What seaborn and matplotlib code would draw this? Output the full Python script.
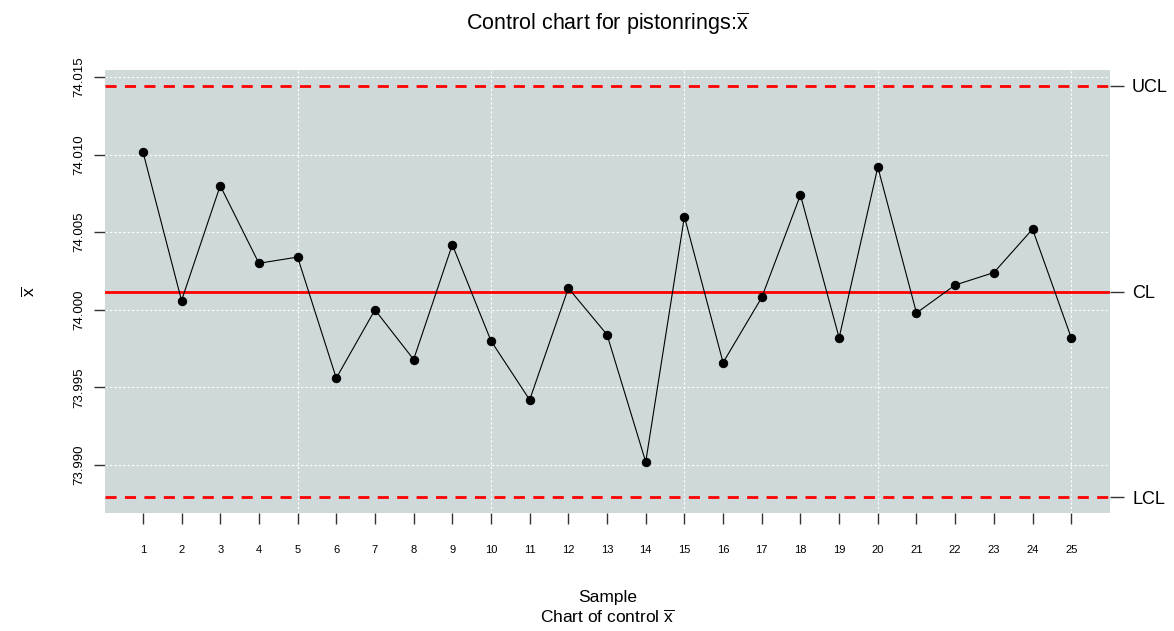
import matplotlib
matplotlib.use("Agg")
import matplotlib.pyplot as plt
import seaborn as sns
import numpy as np
import pandas as pd

samples = list(range(1, 26))
means = [74.0102, 74.0006, 74.0080, 74.0030, 74.0034, 73.9956, 74.0000, 73.9968,
         74.0042, 73.9980, 73.9942, 74.0014, 73.9984, 73.9902, 74.0060, 73.9966,
         74.0008, 74.0074, 73.9982, 74.0092, 73.9998, 74.0016, 74.0024, 74.0052,
         73.9982]
center = 74.00118
ucl = 74.01444
lcl = 73.98792
limit_labels = ["UCL", "CL", "LCL"]
yticks = [73.990, 73.995, 74.000, 74.005, 74.010, 74.015]

sns.set_style("white")
plt.rcParams['font.family'] = ['Liberation Sans', 'DejaVu Sans']
plt.rcParams['mathtext.fontset'] = 'custom'
plt.rcParams['mathtext.rm'] = 'Liberation Sans'
plt.rcParams['mathtext.it'] = 'Liberation Sans'
plt.rcParams['text.color'] = 'black'
plt.rcParams['axes.labelcolor'] = 'black'
plt.rcParams['xtick.color'] = 'black'
plt.rcParams['ytick.color'] = 'black'

fig = plt.figure(figsize=(11.74, 6.31), dpi=100)
ax = fig.add_axes([0.0894, 0.187, 0.856, 0.702])
ax.set_facecolor("#CFD9D9")
for s in ax.spines.values():
    s.set_visible(False)

df = pd.DataFrame({"sample": samples, "mean": means})
ax.set_xlim(0.02, 26.0)
ax.set_ylim(73.98691, 74.01545)

for xv in [5, 10, 15, 20, 25]:
    ax.axvline(xv, color="white", lw=0.8, ls=(0, (2, 2)), zorder=1)
for yv in yticks:
    ax.axhline(yv, color="white", lw=0.8, ls=(0, (2, 2)), zorder=1)

ax.axhline(center, color="red", lw=2, zorder=2)
ax.axhline(ucl, color="red", lw=2, ls=(0, (4, 3)), zorder=2)
ax.axhline(lcl, color="red", lw=2, ls=(0, (4, 3)), zorder=2)

sns.lineplot(data=df, x="sample", y="mean", ax=ax, color="black", lw=0.8,
             marker="o", markersize=6, markeredgecolor="black", zorder=3)

ax.set_xticks(samples)
ax.set_xticklabels([str(s) for s in samples], fontsize=8)
ax.set_yticks(yticks)
ax.set_yticklabels([f"{v:.3f}" for v in yticks], fontsize=9.5, rotation=90, va="center")
ax.tick_params(axis="both", which="both", direction="out", length=8, width=1,
               color="#333333", labelcolor="black", pad=6, bottom=True, left=True)
ax.tick_params(axis="x", pad=15)

ax.set_xlabel("Sample\nChart of control $\\overline{\\mathrm{x}}$", fontsize=12.5, labelpad=25,
              linespacing=1.3, color="black")
ax.set_ylabel("$\\overline{\\mathrm{x}}$", fontsize=12.5, labelpad=26, color="black")
ax.set_title("Control chart for pistonrings:$\\overline{\\mathrm{x}}$", fontsize=15.5, pad=29,
             color="black")

ax2 = ax.twinx()
ax2.set_ylim(ax.get_ylim())
for s in ax2.spines.values():
    s.set_visible(False)
ax2.set_yticks([ucl, center, lcl])
ax2.set_yticklabels(limit_labels, fontsize=13)
ax2.tick_params(axis="y", direction="out", length=10, width=1, color="#333333",
                labelcolor="black", pad=6, right=True)

fig.savefig("out.png", dpi=100, facecolor="white")
